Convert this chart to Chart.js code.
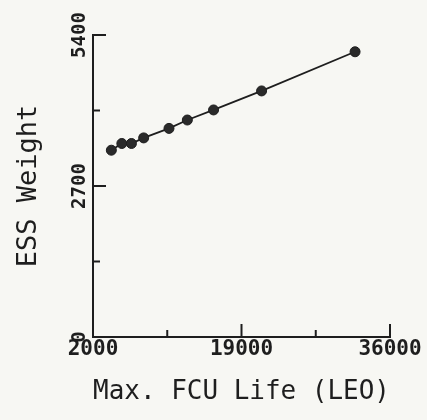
<!DOCTYPE html>
<html>
<head>
<meta charset="utf-8">
<script src="https://cdn.jsdelivr.net/npm/chart.js@4/dist/chart.umd.min.js"></script>
<style>
  html, body { margin: 0; padding: 0; background: #f7f7f3; }
  #wrap { width: 427px; height: 420px; }
</style>
</head>
<body>
<div id="wrap"><canvas id="chart" width="427" height="420"></canvas></div>
<script>
// data
const fcuLife = [4100, 5300, 6400, 7800, 10700, 12800, 15800, 21300, 32000];
const essWeight = [3340, 3460, 3460, 3560, 3730, 3880, 4060, 4400, 5100];

// axis ticks
const xTicks = [2000, 10500, 19000, 27500, 36000];
const xTickLabels = ['2000', '', '19000', '', '36000'];
const yTicks = [0, 1350, 2700, 4050, 5400];
const yTickLabels = ['0', '', '2700', '', '5400'];

const ink = '#1e1e1e';
const mono = '"DejaVu Sans Mono", "Liberation Mono", monospace';

// inward ticks and tick labels, placed with the scales
const plotterAxes = {
    id: 'plotterAxes',
    afterDraw(chart) {
        const ctx = chart.ctx;
        const xs = chart.scales.x;
        const ys = chart.scales.y;
        const area = chart.chartArea;
        ctx.save();
        ctx.strokeStyle = ink;
        ctx.fillStyle = ink;
        ctx.lineWidth = 2;

        xTicks.forEach((v, i) => {
            const px = xs.getPixelForValue(v);
            const len = xTickLabels[i] ? 13 : 7;
            if (i > 0) {
                ctx.beginPath();
                ctx.moveTo(px, area.bottom);
                ctx.lineTo(px, area.bottom - len);
                ctx.stroke();
            }
            if (xTickLabels[i]) {
                ctx.font = 'bold 21px ' + mono;
                ctx.textAlign = 'center';
                ctx.textBaseline = 'middle';
                ctx.fillText(xTickLabels[i], px, area.bottom + 13);
            }
        });

        yTicks.forEach((v, i) => {
            const py = ys.getPixelForValue(v);
            const len = yTickLabels[i] ? 13 : 7;
            if (i > 0) {
                ctx.beginPath();
                ctx.moveTo(area.left, py);
                ctx.lineTo(area.left + len, py);
                ctx.stroke();
            }
            if (yTickLabels[i]) {
                ctx.save();
                ctx.translate(area.left - 13, py);
                ctx.rotate(-Math.PI / 2);
                ctx.font = 'bold 19px ' + mono;
                ctx.textAlign = 'center';
                ctx.textBaseline = 'middle';
                ctx.fillText(yTickLabels[i], 0, 0);
                ctx.restore();
            }
        });
        ctx.restore();
    }
};

const bg = {
    id: 'bg',
    beforeDraw(chart) {
        const ctx = chart.ctx;
        ctx.save();
        ctx.fillStyle = '#f7f7f3';
        ctx.fillRect(0, 0, chart.width, chart.height);
        ctx.restore();
    }
};

new Chart(document.getElementById('chart'), {
    type: 'scatter',
    data: {
        datasets: [{
            data: fcuLife.map((x, i) => ({ x: x, y: essWeight[i] })),
            showLine: true,
            borderColor: ink,
            borderWidth: 1.8,
            pointRadius: 5,
            pointBackgroundColor: '#2a2a2a',
            pointBorderColor: ink,
            pointBorderWidth: 1
        }]
    },
    options: {
        responsive: false,
        animation: false,
        layout: { padding: { top: 35, right: 37, left: 0, bottom: 0 } },
        plugins: {
            legend: { display: false },
            tooltip: { enabled: false }
        },
        scales: {
            x: {
                type: 'linear',
                min: 2000,
                max: 36000,
                grid: { display: false },
                border: { display: true, color: ink, width: 2 },
                ticks: { display: false },
                afterFit(scale) { scale.height = 83; },
                title: {
                    display: true,
                    text: 'Max. FCU Life (LEO)',
                    color: ink,
                    font: { family: mono, size: 27, lineHeight: 1.2 },
                    padding: { top: 0, bottom: 12 }
                }
            },
            y: {
                type: 'linear',
                min: 0,
                max: 5400,
                grid: { display: false },
                border: { display: true, color: ink, width: 2 },
                ticks: { display: false },
                afterFit(scale) { scale.width = 93; },
                title: {
                    display: true,
                    text: 'ESS Weight',
                    color: ink,
                    font: { family: mono, size: 27, lineHeight: 1.2 },
                    padding: { top: 13, bottom: 0 }
                }
            }
        }
    },
    plugins: [bg, plotterAxes]
});
</script>
</body>
</html>
